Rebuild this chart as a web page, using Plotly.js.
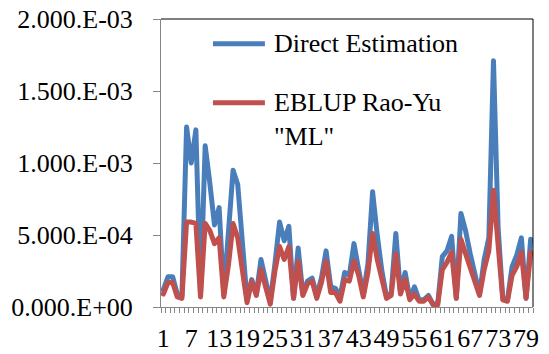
<!DOCTYPE html>
<html>
<head>
<meta charset="utf-8">
<script src="https://cdn.plot.ly/plotly-3.0.1.min.js"></script>
<style>
  html, body { margin: 0; padding: 0; background: #fff; }
  #chart { width: 549px; height: 354px; }
  .scatterlayer .js-line { stroke-linejoin: round !important; stroke-linecap: round !important; }
  #chart svg text { font-family: "Liberation Serif", "DejaVu Serif", serif !important; }
</style>
</head>
<body>
<div id="chart"></div>
<script>
// Area index (categories)
const categories = [1,2,3,4,5,6,7,8,9,10,11,12,13,14,15,16,17,18,19,20,
  21,22,23,24,25,26,27,28,29,30,31,32,33,34,35,36,37,38,39,40,
  41,42,43,44,45,46,47,48,49,50,51,52,53,54,55,56,57,58,59,60,
  61,62,63,64,65,66,67,68,69,70,71,72,73,74,75,76,77,78,79,80];

// Direct Estimation
const directEstimation = [
  0.00012,0.00021,0.00021,0.00009,0.00008,0.00125,0.00100,0.00123,0.00009,0.00112,
  0.00086,0.00057,0.00069,0.00009,0.00052,0.00095,0.00085,0.00047,0.00005,0.00019,
  0.00009,0.00033,0.00017,0.00004,0.00030,0.00059,0.00046,0.00056,0.00006,0.00041,
  0.00009,0.00018,0.00020,0.00008,0.00020,0.00039,0.00014,0.00013,0.00007,0.00024,
  0.00022,0.00044,0.00026,0.00009,0.00030,0.00080,0.00050,0.00025,0.00007,0.00010,
  0.00051,0.00010,0.00024,0.00006,0.00014,0.00005,0.00005,0.00008,0.00002,0.00002,
  0.00035,0.00039,0.00049,0.00006,0.00065,0.00053,0.00037,0.00021,0.00009,0.00033,
  0.00048,0.00171,0.00055,0.00006,0.00005,0.00028,0.00036,0.00048,0.00006,0.00047];

// EBLUP Rao-Yu "ML"
const eblupRaoYu = [
  0.00009,0.00017,0.00017,0.00007,0.00006,0.00059,0.00059,0.00058,0.00007,0.00058,
  0.00053,0.00044,0.00048,0.00007,0.00029,0.00058,0.00048,0.00025,0.00003,0.00018,
  0.00008,0.00026,0.00015,0.00002,0.00025,0.00042,0.00033,0.00042,0.00006,0.00032,
  0.00008,0.00016,0.00018,0.00006,0.00017,0.00032,0.00010,0.00010,0.00004,0.00019,
  0.00018,0.00032,0.00022,0.00007,0.00024,0.00051,0.00033,0.00018,0.00006,0.00008,
  0.00037,0.00009,0.00019,0.00005,0.00009,0.00004,0.00004,0.00007,0.000015,0.000015,
  0.00026,0.00031,0.00038,0.00006,0.00047,0.00037,0.00027,0.00016,0.00008,0.00026,
  0.00039,0.00081,0.00042,0.00005,0.00004,0.00022,0.00028,0.00038,0.00006,0.00038];

const xTickVals = [1,7,13,19,25,31,37,43,49,55,61,67,73,79];
const xTickText = ["1","7","13","19","25","31","37","43","49","55","61","67","73","79"];
const yTickVals = [0, 0.0005, 0.001, 0.0015, 0.002];
const yTickText = ["0.000.E+00","5.000.E-04","1.000.E-03","1.500.E-03","2.000.E-03"];

const seriesNames = ["Direct Estimation", "EBLUP Rao-Yu<br>\"ML\""];
const seriesColors = ["#4A7EBB", "#C0504D"];

const FONT = 'Liberation Serif, DejaVu Serif, serif';

const traces = [
  { x: categories, y: directEstimation, type: 'scatter', mode: 'lines',
    name: 'Direct Estimation', line: { color: seriesColors[0], width: 5 }, showlegend: false },
  { x: categories, y: eblupRaoYu, type: 'scatter', mode: 'lines',
    name: 'EBLUP Rao-Yu "ML"', line: { color: seriesColors[1], width: 5 }, showlegend: false }
];

const legY = [0.914, 0.709];
const shapes = [
  { type: 'line', xref: 'paper', yref: 'paper', x0: 0, x1: 1, y0: 1, y1: 1, line: { color: '#000', width: 1 } },
  { type: 'line', xref: 'paper', yref: 'paper', x0: 1, x1: 1, y0: 0, y1: 1, line: { color: '#000', width: 1 } },
  { type: 'line', xref: 'paper', yref: 'paper', x0: 0.1397, x1: 0.2793, y0: legY[0], y1: legY[0], line: { color: seriesColors[0], width: 5 } },
  { type: 'line', xref: 'paper', yref: 'paper', x0: 0.1397, x1: 0.2793, y0: legY[1], y1: legY[1], line: { color: seriesColors[1], width: 5 } }
];

const annotations = [
  { xref: 'paper', yref: 'paper', x: 0.298, y: legY[0], xanchor: 'left', yanchor: 'middle',
    text: seriesNames[0], showarrow: false, align: 'left', font: { family: FONT, size: 26, color: '#000' } },
  { xref: 'paper', yref: 'paper', x: 0.298, y: 0.650, xanchor: 'left', yanchor: 'middle',
    text: seriesNames[1], showarrow: false, align: 'left', font: { family: FONT, size: 26, color: '#000' } }
];

const layout = {
  width: 549, height: 354,
  margin: { l: 161, r: 16, t: 19, b: 47 },
  paper_bgcolor: '#fff', plot_bgcolor: '#fff',
  font: { family: FONT, size: 26, color: '#000' },
  showlegend: false,
  xaxis: {
    type: 'linear', range: [0.5, 80.5], fixedrange: true,
    tickmode: 'array', tickvals: xTickVals, ticktext: xTickText,
    tickangle: 0,
    ticks: '', showgrid: false, zeroline: false,
    showline: true, linecolor: '#868686', linewidth: 1,
    tickfont: { family: FONT, size: 26, color: '#000' },
    ticklabelstandoff: 8,
    minor: { tick0: 0.5, dtick: 1, ticks: 'outside', ticklen: 5, tickcolor: '#868686', tickwidth: 1, showgrid: false }
  },
  yaxis: {
    range: [0, 0.002], fixedrange: true,
    tickmode: 'array', tickvals: yTickVals, ticktext: yTickText,
    ticks: 'outside', ticklen: 7, tickcolor: '#868686', tickwidth: 1,
    showgrid: false, zeroline: false,
    showline: true, linecolor: '#868686', linewidth: 1,
    tickfont: { family: FONT, size: 26, color: '#000' },
    ticklabelstandoff: 15
  },
  shapes: shapes,
  annotations: annotations
};

Plotly.newPlot('chart', traces, layout, { displayModeBar: false, staticPlot: true });
</script>
</body>
</html>
